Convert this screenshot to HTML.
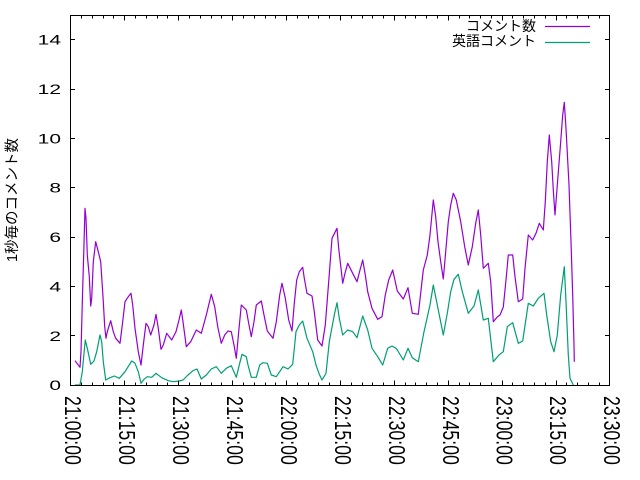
<!DOCTYPE html>
<html><head><meta charset="utf-8"><style>
html,body{margin:0;padding:0;background:#fff;}
svg{display:block;}
text{font-family:"Liberation Sans","Noto Sans CJK JP",sans-serif;fill:#000;}
</style></head><body>
<svg width="640" height="480" viewBox="0 0 640 480" xmlns="http://www.w3.org/2000/svg">
<rect x="0" y="0" width="640" height="480" fill="#fff"/>

<!-- data -->
<polyline fill="none" stroke="#9400d3" stroke-width="1.2" stroke-linejoin="round" points="75,360.7 80,367.3 81,351.7 82.7,288 83.7,255 85,208.3 86,218 87.3,255 89.3,276.7 90.7,306 91.7,298.3 93.3,261.7 95.7,241.7 98.3,251.7 100.7,261.7 103.3,301.7 104.7,326.7 106,338.3 106.7,334.3 108.3,328.3 110.7,320.7 113.3,331.7 115.7,338.3 120,343.3 122.7,321.7 125,301.7 128.3,296.7 131,293.3 132.7,305 135,328.3 138.3,351.7 141,365 143.3,345 146,323.3 148.3,326.7 150.7,335 154,325 156,314.3 158.3,328.3 161,349.3 163.3,345 166.7,333.3 171.7,340 176,331.7 179,320 181.3,310 183,321.7 186.3,346.7 190.7,341.7 196.3,330 201.3,333.3 206.3,315 211.3,294.3 214.7,306.7 218,328.3 221.3,343.3 224.7,335 228,331 231.3,331.7 234,345 236.3,358.3 238.7,331.7 241.3,305 246.3,310 248.7,323.3 251.3,336.7 254,321.7 256.3,305 261.3,301 264,315 267.3,331 273,338.3 276.3,321.7 279.7,295 282,283.3 285.3,298.3 288.7,320 292,331 294.3,303.3 296.7,280 299.3,271.7 302.7,267.3 304.3,278.3 307,293.3 312,296 314.3,311.7 317.7,340 322,346 325.3,325 328.7,281.7 332,238.3 337,228.3 338.7,248.3 341,268.3 342.7,283.3 345,273.3 347.7,263.3 352.7,273.3 357,281.7 360,270 362.7,260 365.3,275 367.7,291.7 372,308.3 377.7,319.3 382,316.7 385.3,295 388.7,280 392.7,270 396,285 397.3,291 403.3,299 408,287.7 412.3,313.3 418.3,314.3 423.3,270 427.3,255 430,235 433.3,200 435.7,216.7 438,241.7 440.7,261.7 443.3,279 445.7,251.7 448.3,221.7 450.7,205 453.3,193.3 456.3,200 460.7,221.7 464.7,246.7 468.3,265 472.3,246.7 475.7,223.3 478.3,210 480.7,235 483.3,268.3 488.3,263.3 490.7,281.7 493.3,321.7 497.3,317 500,315 503.3,307 506,280 508.3,255 512.7,255 515,276.7 518.3,301.7 522.7,299 525,268.3 528.3,235 532.7,240 536,233.3 539.3,223.3 543.3,230 545.3,201.7 547.3,161.7 549.3,135 551.7,161.7 553.3,190 555,215 557.3,185 560.7,141.7 562.7,115 564.3,102.3 566,128.3 569,185 571,241.7 572.7,295 574,345 574.3,361.7"/>
<polyline fill="none" stroke="#009e73" stroke-width="1.2" stroke-linejoin="round" points="75,385 80,385 82.3,371.7 84,353.3 85.3,340 87.3,348.3 90.7,364.3 94,361 96.7,351.7 100,335 101.7,341.7 103.3,361.7 105.7,380 110,377.7 114.3,376 119.3,378.3 125,371.7 131.7,361 135,363.3 138.3,371.7 141,383.3 144,379.3 147.3,376.7 151.7,377.3 156,373.3 161.7,377.7 168.3,380.7 173.3,381.7 179.3,381 183,380 188,375 193,370.7 197,369 201.3,379 206.3,375 211.3,369 216.3,366.7 221.3,373.3 226.3,368.3 231.3,365.7 236.3,377.3 239.7,363.3 242,354.3 246.3,356.7 248,365 251.3,377.3 256.3,377.3 259.7,365 263,362.7 267.3,363.3 271.3,375 276.3,376.7 279.7,371.7 283,366.7 288,369 292.7,364.3 296,331.7 299.3,325 302.7,321 307,338.3 312.7,351.7 316,365 319.3,374.3 322,380 326,373.3 329.3,341.7 334.3,315 337,302.7 339.3,318.3 342.7,335 347.7,330 352.7,331.7 357,337.7 362.7,316 367.7,330 372,348.3 377.7,356.7 382.7,365 387.7,348.3 392,346 396,348.3 397.3,350 403.3,360 408,348.3 412.3,357.7 418.3,361.7 424,331.7 430,305 433.3,285 437.3,305 443.3,335 447.3,313.3 450.7,291.7 454,279.3 458.3,274.3 462.3,291.7 468.3,313.3 474,306 478.3,290 483.3,320 488.3,318.3 493.3,361.7 499,355 503.3,351.7 507.3,326.7 512.7,322.7 518.3,343.3 522.7,341 528.3,303.3 533.3,306 538.3,298.3 544,293.3 546.7,315 550.7,341.7 554,351.7 557.3,335 560.7,295 564.3,266.7 566,301.7 568.3,355 570,378.3 573.3,385"/>

<!-- border -->
<rect x="70.5" y="15.5" width="539" height="370" fill="none" stroke="#000" stroke-width="1"/>

<!-- y ticks (left and right) -->
<path stroke="#000" stroke-width="1" fill="none" d="M70.5 335.5H75 M70.5 286.5H75 M70.5 237.5H75 M70.5 187.5H75 M70.5 138.5H75 M70.5 89.5H75 M70.5 39.5H75 M609.5 335.5H605 M609.5 286.5H605 M609.5 237.5H605 M609.5 187.5H605 M609.5 138.5H605 M609.5 89.5H605 M609.5 39.5H605"/>

<!-- x major ticks -->
<path stroke="#000" stroke-width="1" fill="none" d="M124.5 385V380.5 M178.5 385V380.5 M232.5 385V380.5 M286.5 385V380.5 M340.5 385V380.5 M394.5 385V380.5 M448.5 385V380.5 M502.5 385V380.5 M556.5 385V380.5 M124.5 16V20.5 M178.5 16V20.5 M232.5 16V20.5 M286.5 16V20.5 M340.5 16V20.5 M394.5 16V20.5 M448.5 16V20.5 M502.5 16V20.5 M556.5 16V20.5"/>
<!-- x minor ticks -->
<path stroke="#000" stroke-width="1" fill="none" d="M81.5 385V382.5 M92.5 385V382.5 M103.5 385V382.5 M113.5 385V382.5 M135.5 385V382.5 M146.5 385V382.5 M157.5 385V382.5 M167.5 385V382.5 M189.5 385V382.5 M200.5 385V382.5 M211.5 385V382.5 M221.5 385V382.5 M243.5 385V382.5 M254.5 385V382.5 M265.5 385V382.5 M275.5 385V382.5 M297.5 385V382.5 M308.5 385V382.5 M318.5 385V382.5 M329.5 385V382.5 M351.5 385V382.5 M362.5 385V382.5 M372.5 385V382.5 M383.5 385V382.5 M405.5 385V382.5 M415.5 385V382.5 M426.5 385V382.5 M437.5 385V382.5 M459.5 385V382.5 M469.5 385V382.5 M480.5 385V382.5 M491.5 385V382.5 M512.5 385V382.5 M523.5 385V382.5 M534.5 385V382.5 M545.5 385V382.5 M566.5 385V382.5 M577.5 385V382.5 M588.5 385V382.5 M599.5 385V382.5
M81.5 16V18.5 M92.5 16V18.5 M103.5 16V18.5 M113.5 16V18.5 M135.5 16V18.5 M146.5 16V18.5 M157.5 16V18.5 M167.5 16V18.5 M189.5 16V18.5 M200.5 16V18.5 M211.5 16V18.5 M221.5 16V18.5 M243.5 16V18.5 M254.5 16V18.5 M265.5 16V18.5 M275.5 16V18.5 M297.5 16V18.5 M308.5 16V18.5 M318.5 16V18.5 M329.5 16V18.5 M351.5 16V18.5 M362.5 16V18.5 M372.5 16V18.5 M383.5 16V18.5 M405.5 16V18.5 M415.5 16V18.5 M426.5 16V18.5 M437.5 16V18.5 M459.5 16V18.5 M469.5 16V18.5 M480.5 16V18.5 M491.5 16V18.5 M512.5 16V18.5 M523.5 16V18.5 M534.5 16V18.5 M545.5 16V18.5 M566.5 16V18.5 M577.5 16V18.5 M588.5 16V18.5 M599.5 16V18.5"/>

<!-- y tick labels -->
<g font-size="14" text-anchor="end">
<text transform="translate(61,390) scale(1.5,1)">0</text>
<text transform="translate(61,341) scale(1.5,1)">2</text>
<text transform="translate(61,291.5) scale(1.5,1)">4</text>
<text transform="translate(61,242) scale(1.5,1)">6</text>
<text transform="translate(61,192.5) scale(1.5,1)">8</text>
<text transform="translate(61,143.5) scale(1.5,1)">10</text>
<text transform="translate(61,94) scale(1.5,1)">12</text>
<text transform="translate(61,44.5) scale(1.5,1)">14</text>
</g>

<!-- x tick labels -->
<g font-size="17.7">
<text transform="translate(65,396) rotate(90) scale(1,1.31)">21:00:00</text>
<text transform="translate(119,396) rotate(90) scale(1,1.31)">21:15:00</text>
<text transform="translate(173,396) rotate(90) scale(1,1.31)">21:30:00</text>
<text transform="translate(227,396) rotate(90) scale(1,1.31)">21:45:00</text>
<text transform="translate(281,396) rotate(90) scale(1,1.31)">22:00:00</text>
<text transform="translate(335,396) rotate(90) scale(1,1.31)">22:15:00</text>
<text transform="translate(389,396) rotate(90) scale(1,1.31)">22:30:00</text>
<text transform="translate(443,396) rotate(90) scale(1,1.31)">22:45:00</text>
<text transform="translate(496.5,396) rotate(90) scale(1,1.31)">23:00:00</text>
<text transform="translate(550,396) rotate(90) scale(1,1.31)">23:15:00</text>
<text transform="translate(604,396) rotate(90) scale(1,1.31)">23:30:00</text>
</g>

<!-- y axis label -->
<text font-size="14.5" text-anchor="middle" dominant-baseline="central" transform="translate(13,200) rotate(-90)">1秒毎のコメント数</text>

<!-- legend -->
<text font-size="14" text-anchor="end" x="536" y="31">コメント数</text>
<line x1="545" y1="26.5" x2="590" y2="26.5" stroke="#9400d3" stroke-width="1.2"/>
<text font-size="14" text-anchor="end" x="536" y="46">英語コメント</text>
<line x1="545" y1="42.5" x2="590" y2="42.5" stroke="#009e73" stroke-width="1.2"/>
</svg>
</body></html>
